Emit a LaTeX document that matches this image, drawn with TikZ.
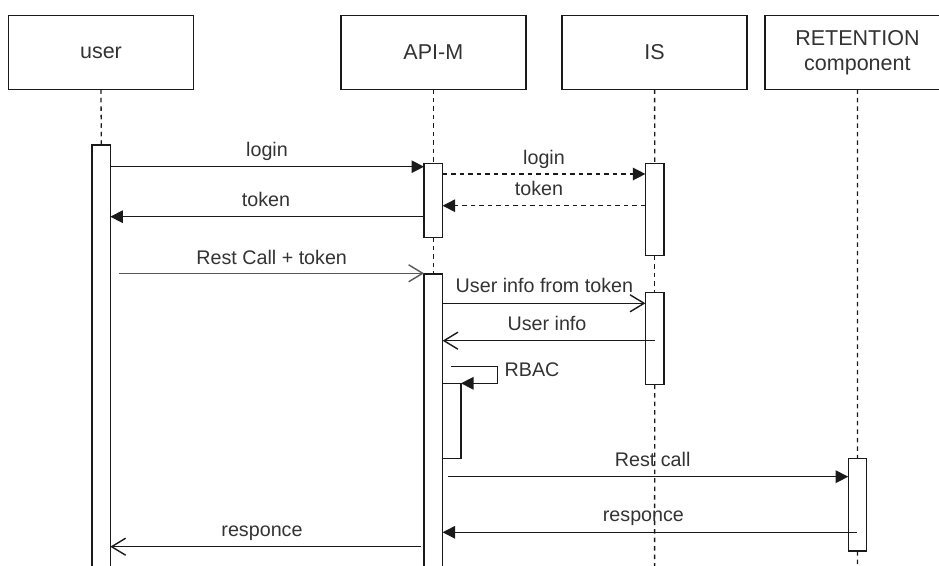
\documentclass[tikz,border=0pt]{standalone}
\usepackage{fontspec}
\setmainfont{Liberation Sans}
\usetikzlibrary{arrows.meta}
\definecolor{txt}{HTML}{333333}
\definecolor{ln}{HTML}{1A1A1A}
\tikzset{
  actor/.style={draw=ln, line width=1.4pt, fill=white, minimum width=185pt, minimum height=73.5pt,
    inner sep=0pt, outer sep=0pt, align=center, text=txt, font=\fontsize{21.5}{25}\selectfont},
  bar/.style={draw=ln, line width=1.4pt, fill=white, minimum width=18.5pt, inner sep=0pt, outer sep=0pt},
  life/.style={draw=ln, line width=1.3pt, dash pattern=on 4.5pt off 4pt},
  msg/.style={draw=ln, line width=1.4pt, -{Triangle[length=12.5pt,width=12.5pt]}},
  dmsg/.style={msg, dash pattern=on 4.5pt off 4pt},
  omsg/.style={draw=ln, line width=1.4pt, -{Straight Barb[length=14pt,width=17pt,line width=1.4pt]}},
  lbl/.style={text=txt, font=\fontsize{19.7}{23}\selectfont, anchor=base, inner sep=0pt},
}
\begin{document}
\begin{tikzpicture}[x=1pt,y=-1pt]
\useasboundingbox (0,0) rectangle (939,565);
% actors
\node[actor] (user) at (101,52.5) {user};
\node[actor] (api) at (433.3,52.5) {API-M};
\node[actor] (is) at (654.6,52.5) {IS};
\node[actor] (ret) at (857.4,52.5) {RETENTION\\component};
% bottom ends of lifelines
\coordinate (isend) at (654.6,566);
\coordinate (retend) at (857.4,566);
% activation bar geometry
\node[bar, minimum height=425pt] (ubar) at (101.3,357.5) {};
\node[bar, minimum height=74pt] (abar1) at (433.3,200.3) {};
\node[bar, minimum height=296pt] (abar2) at (433.3,422) {};
\node[bar, minimum height=92.4pt] (isbar1) at (654.7,209.5) {};
\node[bar, minimum height=92.4pt] (isbar2) at (654.7,338.5) {};
\node[bar, minimum height=92.7pt] (retbar) at (857.5,504.7) {};
% lifelines
\draw[life] (user.south) -- (ubar.north);
\draw[life] (api.south) -- (abar1.north);
\draw[life] (abar1.south) -- (abar2.north);
\draw[life] (is.south) -- (isbar1.north);
\draw[life] (isbar1.south) -- (isbar2.north);
\draw[life] (isbar2.south) -- (isend);
\draw[life] (ret.south) -- (retbar.north);
\draw[life] (retbar.south) -- (retend);
% redraw bars above lifelines
\node[bar, minimum height=425pt] at (ubar) {};
\node[bar, minimum height=74pt] at (abar1) {};
\node[bar, minimum height=296pt] at (abar2) {};
\node[bar, minimum height=92.4pt] at (isbar1) {};
\node[bar, minimum height=92.4pt] at (isbar2) {};
\node[bar, minimum height=92.7pt] at (retbar) {};
\node[bar, minimum height=75pt, minimum width=18.4pt] (rbar) at (451.8,420.8) {};
% message end points
\coordinate (m1a) at (110.3,166.7); \coordinate (m1b) at (424,166.7);
\coordinate (m2a) at (424,216.7);   \coordinate (m2b) at (110.3,216.7);
\coordinate (m3a) at (442.6,174);   \coordinate (m3b) at (645.4,174);
\coordinate (m4a) at (645.4,205.7); \coordinate (m4b) at (442.6,205.7);
\coordinate (m5a) at (119.3,273.3); \coordinate (m5b) at (424,273.3);
\coordinate (m6a) at (442.6,303.3); \coordinate (m6b) at (645.4,303.3);
\coordinate (m7a) at (655,340.7);   \coordinate (m7b) at (442.6,340.7);
\coordinate (r1) at (451.3,366.3);  \coordinate (r2) at (497.7,366.3);
\coordinate (r3) at (497.7,383.3);  \coordinate (r4) at (461,383.3);
\coordinate (m8a) at (448,476.7);   \coordinate (m8b) at (848.2,476.7);
\coordinate (m9a) at (856.5,532.3); \coordinate (m9b) at (442.6,532.3);
\coordinate (m10a) at (420.7,546.7); \coordinate (m10b) at (110.3,546.7);
% messages
\draw[msg] (m1a) -- (m1b);
\node[lbl] (l1) at (267,156.5) {login};
\draw[msg] (m2a) -- (m2b);
\node[lbl] (l2) at (266,206.5) {token};
\draw[dmsg] (m3a) -- (m3b);
\node[lbl] (l3) at (544,164.3) {login};
\draw[dmsg] (m4a) -- (m4b);
\node[lbl] (l4) at (539,195) {token};
\draw[omsg, draw=black!65] (m5a) -- (m5b);
\node[lbl] (l5) at (271.7,264) {Rest Call + token};
\draw[omsg] (m6a) -- (m6b);
\node[lbl] (l6) at (544.4,292.7) {User info from token};
\draw[omsg] (m7a) -- (m7b);
\node[lbl] (l7) at (547,330) {User info};
\draw[msg] (r1) -- (r2) -- (r3) -- (r4);
\node[lbl, anchor=base west] (l8) at (504.5,376.5) {RBAC};
\draw[msg] (m8a) -- (m8b);
\node[lbl] (l9) at (652.7,466.7) {Rest call};
\draw[msg] (m9a) -- (m9b);
\node[lbl] (l10) at (643.4,521.7) {responce};
\draw[omsg] (m10a) -- (m10b);
\node[lbl] (l11) at (262,536) {responce};
\end{tikzpicture}
\end{document}
